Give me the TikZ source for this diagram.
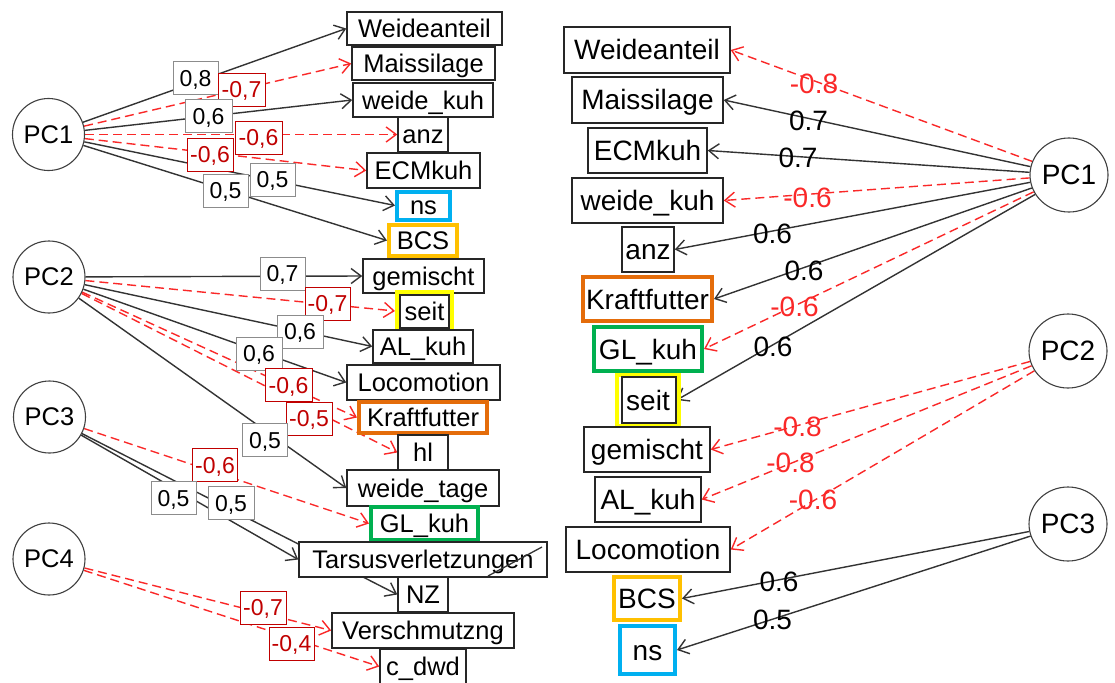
\documentclass[tikz,border=0pt]{standalone}
\usepackage{fontspec}
\setmainfont{Liberation Sans}
\usetikzlibrary{arrows.meta,backgrounds,shapes.geometric}
\definecolor{cblue}{RGB}{0,176,240}
\definecolor{cgold}{RGB}{255,192,0}
\definecolor{corange}{RGB}{228,108,10}
\definecolor{cgreen}{RGB}{0,176,80}
\definecolor{cyellow}{RGB}{255,255,0}
\definecolor{lred}{RGB}{250,40,40}
\definecolor{dred}{RGB}{192,0,0}
\newcommand\LFnt{\fontsize{25.5}{25.5}\selectfont}
\newcommand\RFnt{\fontsize{28}{28}\selectfont}
\newcommand\NFnt{\fontsize{23}{23}\selectfont}
\begin{document}
\begin{tikzpicture}[x=1pt,y=-1pt,
  box/.style={draw=black!85, line width=1.5pt, fill=white, inner sep=0pt, text depth=0pt},
  lb/.style={box, font=\LFnt, text height=18.3pt},
  rb/.style={box, font=\RFnt, text height=20pt},
  hlt/.style={line width=4pt, draw=#1},
  inbox/.style={draw=black!85, line width=1.5pt, inner sep=0pt},
  pcl/.style={circle, draw=black!75, line width=1.1pt, inner sep=0pt, minimum size=72pt, font=\LFnt},
  pcr/.style={ellipse, draw=black!75, line width=1.1pt, inner sep=0pt, minimum width=78pt, minimum height=74pt, font=\RFnt},
  ebold/.style={draw=black!80, line width=1.4pt, -{Straight Barb[length=10pt,width=15pt]}},
  edash/.style={draw=lred, line width=1.4pt, dash pattern=on 9pt off 5pt, -{Straight Barb[length=10pt,width=15pt]}},
  vlab/.style={draw=black!45, fill=white, line width=0.8pt, font=\NFnt, inner sep=0pt, minimum width=45pt, minimum height=33pt, text height=16.5pt, text depth=0pt},
  vlabn/.style={vlab, draw=dred, text=dred},
  rl/.style={font=\RFnt, inner sep=0pt, text height=20pt, text depth=0pt},
  rln/.style={rl, text=lred}
]
\useasboundingbox (0,0) rectangle (1115,682);

% ---------- left panel ----------
\node[pcl] (PC1L) at (48.5,134.5) {PC1};
\node[pcl] (PC2L) at (49,277) {PC2};
\node[pcl] (PC3L) at (49.5,417) {PC3};
\node[pcl] (PC4L) at (49,559) {PC4};

\node[lb, minimum width=155pt, minimum height=33pt] (WeideL) at (424.5,28.5) {Weideanteil};
\node[lb, minimum width=143pt, minimum height=33pt] (MaisL) at (423.5,63.5) {Maissilage};
\node[lb, minimum width=140pt, minimum height=34pt] (wkuhL) at (423,100) {weide\_kuh};
\node[lb, minimum width=50pt, minimum height=35pt] (anzL) at (423,134.5) {anz};
\node[lb, minimum width=113pt, minimum height=35pt] (ECML) at (423.5,170.5) {ECMkuh};
\node[lb, hlt=cblue, minimum width=53pt, minimum height=28pt] (nsL) at (423.5,205.5) {ns};
\node[lb, hlt=cgold, minimum width=68pt, minimum height=31pt] (BCSL) at (423,240.5) {BCS};
\node[lb, minimum width=121pt, minimum height=34pt] (gemL) at (423.5,276) {gemischt};
\node[lb, hlt=cyellow, minimum width=55pt, minimum height=38pt] (seitL) at (424.5,311) {seit};
\node[inbox, minimum width=49pt, minimum height=33pt] (seitLi) at (424.5,311.5) {};
\node[lb, minimum width=100pt, minimum height=33pt] (ALL) at (423,346.5) {AL\_kuh};
\node[lb, minimum width=153pt, minimum height=35pt] (LocoL) at (423.5,382.5) {Locomotion};
\node[lb, hlt=corange, minimum width=128pt, minimum height=31pt] (KraftL) at (423,417.5) {Kraftfutter};
\node[lb, minimum width=50pt, minimum height=35pt] (hlL) at (423,452.5) {hl};
\node[lb, minimum width=152pt, minimum height=36pt] (wtageL) at (423,488) {weide\_tage};
\node[lb, hlt=cgreen, minimum width=107pt, minimum height=33pt] (GLL) at (424.5,523.5) {GL\_kuh};
\node[lb, minimum width=248pt, minimum height=35pt] (TarsL) at (423,559.5) {Tarsusverletzungen};
\node[lb, minimum width=50pt, minimum height=35pt] (NZL) at (423,594.5) {NZ};
\node[lb, minimum width=182pt, minimum height=35pt] (VerL) at (423,630.5) {Verschmutzng};
\node[lb, minimum width=86pt, minimum height=35pt] (cdwdL) at (423,666.5) {c\_dwd};
\draw[black!80, line width=1.3pt] (488,576) -- (542,547);

% ---------- right panel ----------
\node[pcr] (PC1R) at (1069,175) {PC1};
\node[pcr] (PC2R) at (1068,351) {PC2};
\node[pcr] (PC3R) at (1068,524) {PC3};

\node[rb, minimum width=166pt, minimum height=46pt] (WeideR) at (647,50) {Weideanteil};
\node[rb, minimum width=151pt, minimum height=46pt] (MaisR) at (647.5,100) {Maissilage};
\node[rb, minimum width=119pt, minimum height=45pt] (ECMR) at (647.5,150.5) {ECMkuh};
\node[rb, minimum width=151pt, minimum height=45pt] (wkuhR) at (647.5,200.5) {weide\_kuh};
\node[rb, minimum width=52pt, minimum height=45pt] (anzR) at (648,249.5) {anz};
\node[rb, hlt=corange, minimum width=129pt, minimum height=44pt] (KraftR) at (647.5,299) {Kraftfutter};
\node[rb, hlt=cgreen, minimum width=108pt, minimum height=44pt] (GLR) at (648,349) {GL\_kuh};
\node[rb, hlt=cyellow, minimum width=62pt, minimum height=51pt] (seitR) at (648,400.5) {seit};
\node[inbox, minimum width=54pt, minimum height=46pt] (seitRi) at (649,400) {};
\node[rb, minimum width=126pt, minimum height=45pt] (gemR) at (647,449.5) {gemischt};
\node[rb, minimum width=106pt, minimum height=45pt] (ALR) at (648,499.5) {AL\_kuh};
\node[rb, minimum width=164pt, minimum height=45pt] (LocoR) at (648,549.5) {Locomotion};
\node[rb, hlt=cgold, minimum width=66pt, minimum height=43pt] (BCSR) at (647,598.5) {BCS};
\node[rb, hlt=cblue, minimum width=55pt, minimum height=48pt] (nsR) at (647.5,650) {ns};

% ---------- connectors (behind the boxes) ----------
\begin{scope}[on background layer]
\fill[white] (0,0) rectangle (1115,682);
\draw[ebold] (PC1L) -- (WeideL.west);
\draw[edash] (PC1L) -- (MaisL.west);
\draw[ebold] (PC1L) -- (wkuhL.west);
\draw[edash] (PC1L) -- (anzL.west);
\draw[edash] (PC1L) -- (ECML.west);
\draw[ebold] (PC1L) -- (nsL.west);
\draw[ebold] (PC1L) -- (BCSL.west);
\draw[ebold] (PC2L) -- (gemL.west);
\draw[edash] (PC2L) -- (seitL.west);
\draw[ebold] (PC2L) -- (ALL.west);
\draw[ebold] (PC2L) -- (LocoL.west);
\draw[edash] (PC2L) -- (KraftL.west);
\draw[edash] (PC2L) -- (hlL.west);
\draw[ebold] (PC2L) -- (wtageL.west);
\draw[edash] (PC3L) -- (GLL.west);
\draw[ebold] (PC3L) -- (TarsL.west);
\draw[ebold] (PC3L) -- (NZL.west);
\draw[edash] (PC4L) -- (VerL.west);
\draw[edash] (PC4L) -- (cdwdL.west);

\draw[edash] (PC1R) -- (WeideR.east);
\draw[ebold] (PC1R) -- (MaisR.east);
\draw[ebold] (PC1R) -- (ECMR.east);
\draw[edash] (PC1R) -- (wkuhR.east);
\draw[ebold] (PC1R) -- (anzR.east);
\draw[ebold] (PC1R) -- (KraftR.east);
\draw[edash] (PC1R) -- (GLR.east);
\draw[ebold] (PC1R) -- (seitRi.east);
\draw[edash] (PC2R) -- (gemR.east);
\draw[edash] (PC2R) -- (ALR.east);
\draw[edash] (PC2R) -- (LocoR.east);
\draw[ebold] (PC3R) -- (BCSR.east);
\draw[ebold] (PC3R) -- (nsR.east);
\end{scope}

% ---------- left loading labels ----------
\node[vlab]  (a1) at (195.5,78) {0,8};
\node[vlabn, minimum width=47pt] (a2) at (241.5,89.5) {-0,7};
\node[vlab, minimum width=47pt] (a3) at (208.5,116) {0,6};
\node[vlabn, minimum width=47pt] (a4) at (258.5,137.5) {-0,6};
\node[vlabn, minimum width=46pt] (a5) at (210,154.5) {-0,6};
\node[vlab]  (a6) at (272.5,179.5) {0,5};
\node[vlab]  (a7) at (225.5,190.5) {0,5};
\node[vlab]  (b1) at (282.5,273.5) {0,7};
\node[vlabn] (b2) at (327.5,303.5) {-0,7};
\node[vlab, minimum width=46pt] (b3) at (300,331.5) {0,6};
\node[vlab, minimum width=46pt] (b4) at (259,353.5) {0,6};
\node[vlabn, minimum width=47pt] (b5) at (288.5,385) {-0,6};
\node[vlabn, minimum width=46pt] (b6) at (309,418.5) {-0,5};
\node[vlab]  (b7) at (265,440) {0,5};
\node[vlabn] (c1) at (215,465) {-0,6};
\node[vlab]  (c2) at (173.5,498) {0,5};
\node[vlab, minimum width=46pt] (c3) at (231,503) {0,5};
\node[vlabn, minimum width=46pt] (d1) at (263,607.5) {-0,7};
\node[vlabn] (d2) at (291.5,643.5) {-0,4};

% ---------- right loading labels ----------
\node[rln] (r1) at (814,84) {-0.8};
\node[rl]  (r2) at (808.5,120) {0.7};
\node[rl]  (r3) at (798,157) {0.7};
\node[rln] (r4) at (807.5,197) {-0.6};
\node[rl]  (r5) at (772.5,233) {0.6};
\node[rl]  (r6) at (804,270) {0.6};
\node[rln] (r7) at (794.5,306) {-0.6};
\node[rl]  (r8) at (773,346) {0.6};
\node[rln] (r9) at (797.5,426) {-0.8};
\node[rln] (r10) at (790.5,462) {-0.8};
\node[rln] (r11) at (813,499) {-0.6};
\node[rl]  (r12) at (779,581) {0.6};
\node[rl]  (r13) at (772.5,619) {0.5};
\end{tikzpicture}
\end{document}
